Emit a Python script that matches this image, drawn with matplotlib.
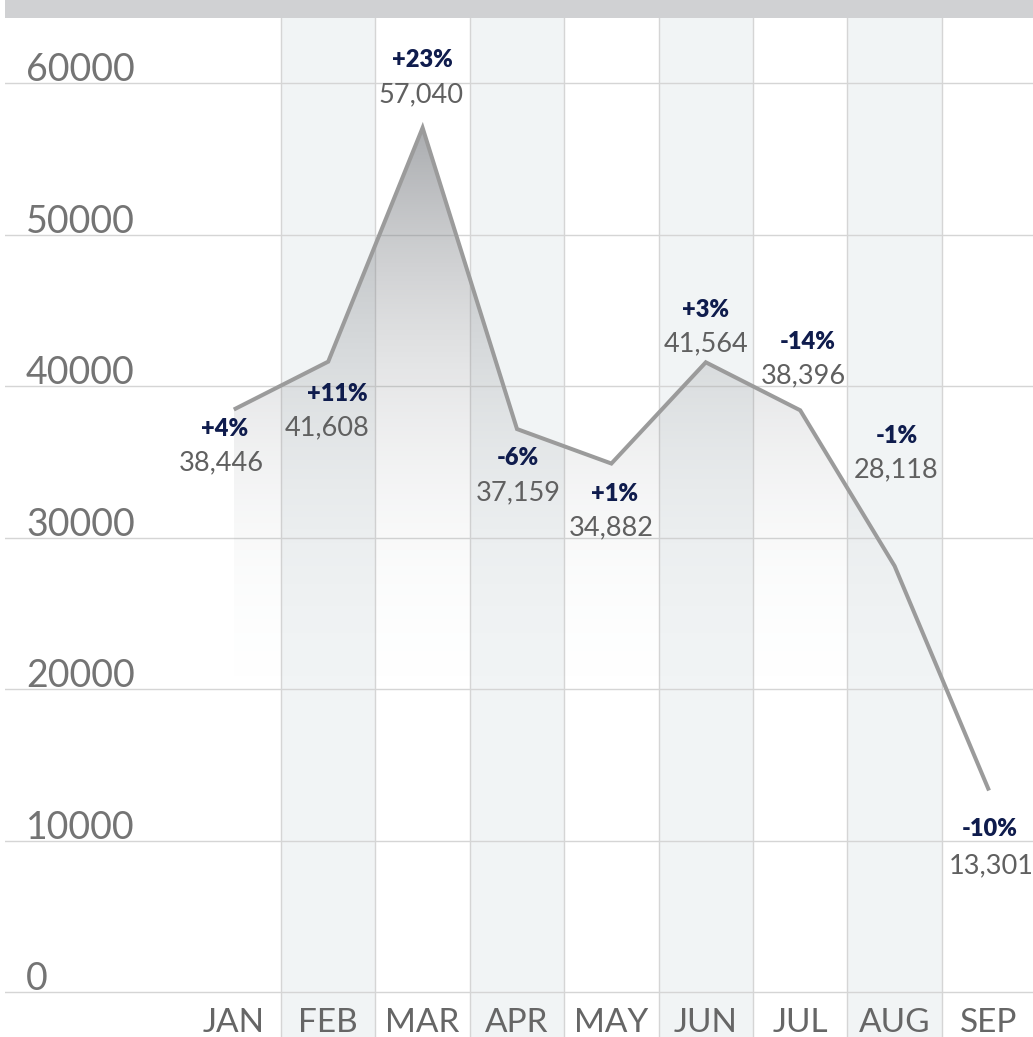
import numpy as np
import matplotlib
matplotlib.use("Agg")
from matplotlib import pyplot as plt
from matplotlib.transforms import blended_transform_factory

months = ["JAN", "FEB", "MAR", "APR", "MAY", "JUN", "JUL", "AUG", "SEP"]
values = [38446, 41608, 57040, 37159, 34882, 41564, 38396, 28118, 13301]
changes = ["+4%", "+11%", "+23%", "-6%", "+1%", "+3%", "-14%", "-1%", "-10%"]
y_ticks = [0, 10000, 20000, 30000, 40000, 50000, 60000]

# label offsets (pixels) of the percent / value text relative to each point
pct_off = [(-9, -19), (9, -32), (0, 68), (1, -29), (3, -30), (0, 52), (7, 68), (2, 130), (1, -39)]
val_off = [(-13, -53), (-1, -66), (-2, 33), (1, -64), (0, -64), (0, 18), (3, 34), (1, 96), (2, -75)]

W, H = 1033, 1037
fig = plt.figure(figsize=(W / 100, H / 100), dpi=100)
ax = fig.add_axes([5 / W, 0, (W - 5) / W, 1])

px_per_unit = 151.5 / 10000
ytop = 992 / px_per_unit
ybot = -(H - 992) / px_per_unit
x0 = -(233.8 - 5) / 94.4
x1 = (W - 233.8) / 94.4
ax.set_xlim(x0, x1)
ax.set_ylim(ybot, ytop)
ax.axis("off")

grid_c = "#d5d5d5"
band_c = "#f1f4f5"
bar_top = (992 - 18) / px_per_unit

x = np.arange(len(months))

# column bands and separators
for i in x:
    if i % 2 == 1:
        ax.axvspan(i - 0.5, i + 0.5, color=band_c, lw=0, zorder=0)
    if i > 0:
        ax.axvline(i - 0.5, color=grid_c, lw=1, zorder=1)

# horizontal gridlines
for t in y_ticks:
    ax.axhline(t, color=grid_c, lw=1, zorder=1)

# top bar
ax.axhspan(bar_top, ytop + 1000, color="#d0d1d3", lw=0, zorder=5)

# gradient fill under the line
fill = ax.fill_between(x, values, 0, color="none", lw=0)
ny = 400
yy = np.linspace(0, 60000, ny)
t = np.clip((yy - 16000) / (57000 - 16000), 0, 1)
alpha = 0.66 * t ** 2.4
img = np.zeros((ny, 2, 4))
img[:, :, 0] = 0.50
img[:, :, 1] = 0.51
img[:, :, 2] = 0.53
img[:, :, 3] = alpha[:, None]
im = ax.imshow(img, extent=[x[0], x[-1], 0, 60000], origin="lower",
               aspect="auto", interpolation="bilinear", zorder=2)
clip = fill.get_paths()[0]
im.set_clip_path(clip, transform=ax.transData)
ax.set_xlim(x0, x1)
ax.set_ylim(ybot, ytop)

# line
ax.plot(x, values, color="#9b9b9b", lw=2.9, solid_joinstyle="miter",
        solid_capstyle="butt", zorder=3)

# point labels
for i, v in enumerate(values):
    ax.annotate(changes[i], (i, v), xytext=pct_off[i], textcoords="offset pixels",
                ha="center", va="center", fontsize=17, fontweight="heavy",
                color="#0f1c4d", family="Lato", zorder=6)
    ax.annotate(f"{v:,}", (i, v), xytext=val_off[i], textcoords="offset pixels",
                ha="center", va="center", fontsize=19.5,
                color="#606060", family="Lato", zorder=6)

# y labels
ty = blended_transform_factory(ax.transAxes, ax.transData)
for t in y_ticks:
    ax.text((26 - 5) / (W - 5), t + 120, str(t), transform=ty, ha="left",
            va="baseline", fontsize=27, color="#747474", family="Lato",
            zorder=6)

# month labels
tx = blended_transform_factory(ax.transData, ax.transAxes)
for i, m in enumerate(months):
    ax.text(i, (H - 1023.5) / H, m, transform=tx, ha="center", va="center",
            fontsize=24, color="#666666", family="Lato", zorder=6)

fig.savefig("out.png", dpi=100)
